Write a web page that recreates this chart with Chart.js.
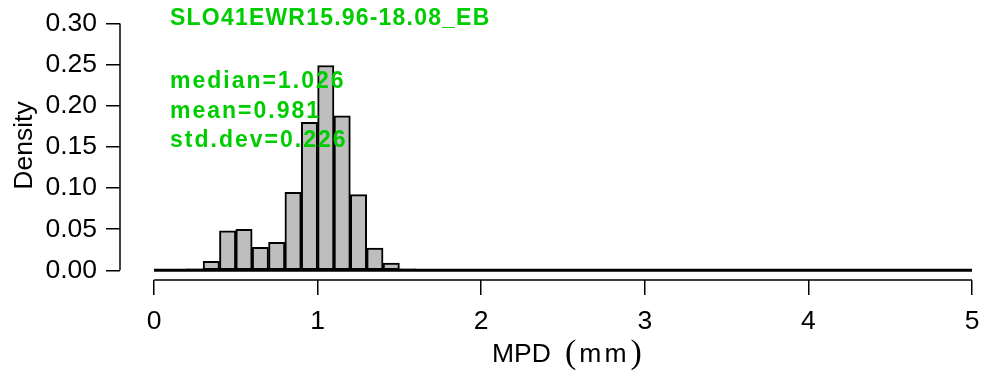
<!DOCTYPE html>
<html><head><meta charset="utf-8">
<script src="https://cdn.jsdelivr.net/npm/chart.js@4/dist/chart.umd.min.js"></script>
<style>html,body{margin:0;padding:0;background:#fff;overflow:hidden}#wrap{width:982px;height:371px;position:relative}</style>
</head><body><div id="wrap"><canvas id="c" width="982" height="371"></canvas></div>
<script>
// ---- data ----
const binStarts = [0.2,0.3,0.4,0.5,0.6,0.7,0.8,0.9,1.0,1.1,1.2,1.3,1.4,1.5];
const binWidth = 0.1;
const densities = [0.002,0.011,0.048,0.050,0.028,0.034,0.095,0.180,0.249,0.188,0.092,0.027,0.009,0.002];
const xTicks = [0,1,2,3,4,5];
const yTicks = [0,0.05,0.10,0.15,0.20,0.25,0.30];
const titleText = 'SLO41EWR15.96-18.08_EB';
const statLines = ['median=1.026','mean=0.981','std.dev=0.226'];
const xLabel = 'MPD';
const xUnit = 'mm';
const yLabel = 'Density';

const SANS = '"Liberation Sans", Arial, Helvetica, sans-serif';
const SERIF = '"Liberation Serif", "Times New Roman", serif';
const GREEN = 'rgb(0,205,0)';

const barData = binStarts.map((s,i)=>({x: s + binWidth/2, y: densities[i]}));
const baseLine = [{x: xTicks[0], y: 0}, {x: xTicks[xTicks.length-1], y: 0}];

const axisPlugin = {
  id: 'rAxes',
  afterDraw(chart){
    const ctx = chart.ctx, xs = chart.scales.x, ys = chart.scales.y, ca = chart.chartArea;
    ctx.save();
    ctx.strokeStyle = '#000'; ctx.lineWidth = 1.5;
    ctx.beginPath();
    ctx.moveTo(ca.left, ys.getPixelForValue(yTicks[0]));
    ctx.lineTo(ca.left, ys.getPixelForValue(yTicks[yTicks.length-1]));
    ctx.stroke();
    ctx.beginPath();
    ctx.moveTo(xs.getPixelForValue(xTicks[0]), ca.bottom);
    ctx.lineTo(xs.getPixelForValue(xTicks[xTicks.length-1]), ca.bottom);
    ctx.stroke();

    const tx = xs.getPixelForValue(0) + 16;
    ctx.fillStyle = GREEN;
    ctx.textAlign = 'left'; ctx.textBaseline = 'alphabetic';
    ctx.font = 'bold 23px ' + SANS;
    ctx.letterSpacing = '1.2px';
    ctx.fillText(titleText, tx, 25);
    ctx.letterSpacing = '2px';
    const ys0 = [88, 117.5, 147];
    statLines.forEach((t,i)=>ctx.fillText(t, tx, ys0[i]));
    ctx.letterSpacing = '0px';

    ctx.fillStyle = '#000';
    ctx.font = '26.5px ' + SANS;
    ctx.save();
    const ymid = (ys.getPixelForValue(yTicks[0]) + ys.getPixelForValue(yTicks[yTicks.length-1]))/2 - 1.5;
    ctx.translate(31.5, ymid);
    ctx.rotate(-Math.PI/2);
    ctx.textAlign = 'center';
    ctx.fillText(yLabel, 0, 0);
    ctx.restore();

    const cx = (xs.getPixelForValue(xTicks[0]) + xs.getPixelForValue(xTicks[xTicks.length-1]))/2;
    const base = 362;
    ctx.textAlign = 'left';
    let x = cx - 71;
    ctx.font = '26.5px ' + SANS;
    ctx.fillText(xLabel, x, base);
    x = cx + 2;
    ctx.font = '34px ' + SERIF;
    ctx.fillText('(', x, base + 0.5);
    x += ctx.measureText('(').width + 3;
    ctx.font = '26.5px ' + SANS;
    ctx.letterSpacing = '3px';
    ctx.fillText(xUnit, x, base);
    x += ctx.measureText(xUnit).width + 1;
    ctx.letterSpacing = '0px';
    ctx.font = '34px ' + SERIF;
    ctx.fillText(')', x, base + 0.5);
    ctx.restore();
  }
};

new Chart(document.getElementById('c'), {
  data: {
    datasets: [
      { type: 'bar', data: barData, backgroundColor: '#bebebe', borderColor: '#000', borderWidth: 2,
        borderSkipped: false, barPercentage: 1, categoryPercentage: 1, order: 2 },
      { type: 'line', data: baseLine, borderColor: '#000', borderWidth: 3, pointRadius: 0, order: 1 }
    ]
  },
  options: {
    responsive: false, animation: false, devicePixelRatio: 1,
    layout: { padding: { left: 0, right: 0, top: 14.5, bottom: 0 } },
    plugins: { legend: { display: false }, tooltip: { enabled: false } },
    scales: {
      x: {
        type: 'linear', min: -0.208, max: 5, offset: false,
        afterBuildTicks: s => { s.ticks = xTicks.map(v => ({ value: v })); },
        afterFit: s => { s.height = 91; s.paddingRight = 10; },
        grid: { offset: false, drawOnChartArea: false, drawTicks: true, tickLength: 15, color: '#000', lineWidth: 1.5 },
        border: { display: false },
        ticks: { autoSkip: false, maxRotation: 0, color: '#000', padding: 12,
          font: { family: SANS, size: 26.5, lineHeight: 1.1 }, callback: v => String(v) }
      },
      y: {
        type: 'linear', min: -0.0117, max: 0.3,
        afterBuildTicks: s => { s.ticks = yTicks.map(v => ({ value: v })); },
        afterFit: s => { s.width = 120; },
        grid: { drawOnChartArea: false, drawTicks: true, tickLength: 14, color: '#000', lineWidth: 1.5 },
        border: { display: false },
        ticks: { color: '#000', padding: 9,
          font: { family: SANS, size: 26.5, lineHeight: 1.1 }, callback: v => v.toFixed(2) }
      }
    }
  },
  plugins: [axisPlugin]
});
</script></body></html>
